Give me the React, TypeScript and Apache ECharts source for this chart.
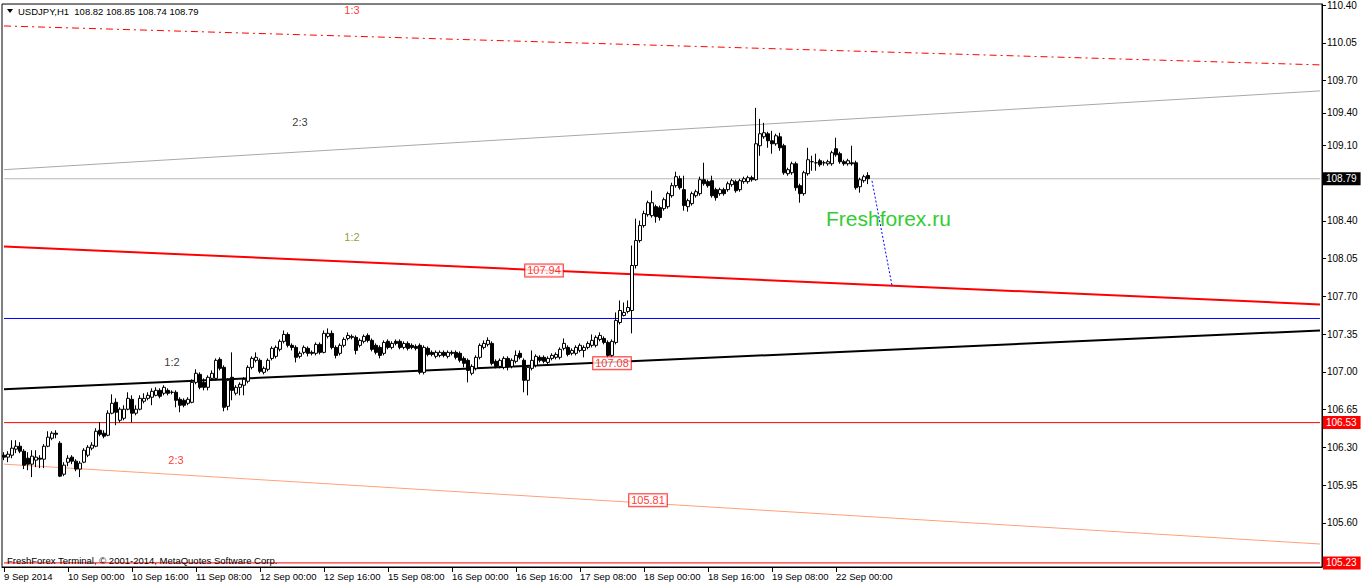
import React, { useEffect, useRef } from "react";
import * as echarts from "echarts";

// ---------- DATA ----------
const tradingDays = ["9 Sep", "10 Sep", "11 Sep", "12 Sep", "15 Sep", "16 Sep", "17 Sep", "18 Sep", "19 Sep", "22 Sep"];
const firstHour = 8;
const lastHour = 8;
const totalSlots = 330;

const timeTickLabels = [
  "9 Sep 2014", "10 Sep 00:00", "10 Sep 16:00", "11 Sep 08:00", "12 Sep 00:00", "12 Sep 16:00", "15 Sep 08:00",
  "16 Sep 00:00", "16 Sep 16:00", "17 Sep 08:00", "18 Sep 00:00", "18 Sep 16:00", "19 Sep 08:00", "22 Sep 00:00",
];
const timeTickStep = 16;

const priceTicks = [110.4, 110.05, 109.7, 109.4, 109.1, 108.4, 108.05, 107.7, 107.35, 107.0, 106.65, 106.3, 105.95, 105.6];
const priceMin = 105.192;
const priceMax = 110.409;

// [open, close, low, high] USDJPY H1
const ohlc: number[][] = [
  [106.228, 106.21, 106.182, 106.256], [106.21, 106.237, 106.163, 106.265], [106.228, 106.293, 106.2, 106.367],
  [106.284, 106.311, 106.247, 106.367], [106.311, 106.265, 106.247, 106.348], [106.265, 106.136, 106.099, 106.284],
  [106.2, 106.145, 106.089, 106.256], [106.145, 106.219, 106.025, 106.274], [106.182, 106.21, 106.117, 106.274],
  [106.2, 106.191, 106.108, 106.228], [106.191, 106.311, 106.108, 106.33], [106.311, 106.395, 106.302, 106.45],
  [106.385, 106.432, 106.367, 106.45], [106.432, 106.422, 106.385, 106.459], [106.339, 106.034, 106.025, 106.358],
  [106.052, 106.136, 106.034, 106.163], [106.163, 106.2, 106.126, 106.228], [106.21, 106.173, 106.145, 106.228],
  [106.173, 106.099, 106.08, 106.191], [106.099, 106.154, 106.025, 106.173], [106.163, 106.274, 106.154, 106.293],
  [106.228, 106.302, 106.21, 106.321], [106.293, 106.321, 106.274, 106.348], [106.311, 106.45, 106.302, 106.478],
  [106.459, 106.422, 106.404, 106.533], [106.432, 106.404, 106.385, 106.459], [106.413, 106.617, 106.404, 106.644],
  [106.617, 106.709, 106.607, 106.792], [106.718, 106.626, 106.506, 106.755], [106.552, 106.654, 106.533, 106.672],
  [106.57, 106.654, 106.552, 106.691], [106.654, 106.755, 106.644, 106.811], [106.746, 106.617, 106.533, 106.783],
  [106.617, 106.654, 106.598, 106.691], [106.654, 106.755, 106.644, 106.783], [106.728, 106.755, 106.709, 106.802],
  [106.755, 106.783, 106.737, 106.811], [106.765, 106.82, 106.691, 106.848], [106.783, 106.829, 106.774, 106.857],
  [106.829, 106.774, 106.755, 106.848], [106.802, 106.857, 106.783, 106.876], [106.829, 106.802, 106.783, 106.848],
  [106.811, 106.811, 106.792, 106.829], [106.811, 106.737, 106.672, 106.829], [106.746, 106.691, 106.626, 106.765],
  [106.737, 106.691, 106.672, 106.755], [106.709, 106.746, 106.691, 106.765], [106.718, 106.903, 106.709, 106.931],
  [106.903, 106.987, 106.885, 107.024], [106.977, 106.857, 106.839, 106.996], [106.903, 106.857, 106.829, 106.94],
  [106.857, 106.95, 106.829, 106.968], [106.94, 106.987, 106.922, 107.014], [106.94, 107.107, 106.922, 107.125],
  [107.116, 107.033, 107.014, 107.135], [107.042, 106.672, 106.635, 107.061], [106.681, 106.922, 106.644, 106.94],
  [106.95, 106.829, 106.737, 107.181], [106.802, 106.857, 106.783, 106.876], [106.857, 106.885, 106.783, 106.903],
  [106.876, 106.931, 106.783, 106.95], [106.913, 107.042, 106.894, 107.061], [107.042, 107.125, 107.024, 107.144],
  [107.107, 107.135, 107.088, 107.181], [107.107, 107.005, 106.987, 107.125], [106.996, 107.033, 106.977, 107.051],
  [107.024, 107.107, 107.005, 107.125], [107.125, 107.218, 107.107, 107.236], [107.144, 107.227, 107.125, 107.246],
  [107.209, 107.283, 107.19, 107.301], [107.283, 107.347, 107.264, 107.384], [107.347, 107.246, 107.227, 107.366],
  [107.246, 107.227, 107.199, 107.264], [107.227, 107.135, 107.088, 107.246], [107.144, 107.172, 107.125, 107.19],
  [107.181, 107.227, 107.162, 107.246], [107.218, 107.172, 107.144, 107.236], [107.181, 107.172, 107.153, 107.199],
  [107.172, 107.255, 107.153, 107.273], [107.255, 107.181, 107.162, 107.273], [107.181, 107.357, 107.172, 107.384],
  [107.329, 107.357, 107.31, 107.403], [107.357, 107.227, 107.209, 107.384], [107.227, 107.153, 107.125, 107.246],
  [107.172, 107.246, 107.153, 107.264], [107.246, 107.301, 107.227, 107.32], [107.31, 107.338, 107.292, 107.366],
  [107.32, 107.329, 107.301, 107.347], [107.32, 107.199, 107.162, 107.338], [107.246, 107.292, 107.227, 107.31],
  [107.283, 107.329, 107.264, 107.347], [107.338, 107.292, 107.273, 107.357], [107.292, 107.209, 107.19, 107.31],
  [107.246, 107.181, 107.162, 107.264], [107.227, 107.153, 107.125, 107.246], [107.172, 107.273, 107.153, 107.292],
  [107.283, 107.227, 107.209, 107.301], [107.227, 107.264, 107.209, 107.283], [107.283, 107.264, 107.246, 107.301],
  [107.283, 107.227, 107.209, 107.301], [107.227, 107.264, 107.209, 107.283], [107.264, 107.218, 107.199, 107.283],
  [107.246, 107.227, 107.209, 107.264], [107.236, 107.218, 107.199, 107.255], [107.246, 106.996, 106.977, 107.264],
  [106.996, 107.227, 106.977, 107.246], [107.218, 107.162, 107.144, 107.236], [107.181, 107.162, 107.144, 107.199],
  [107.144, 107.181, 107.125, 107.199], [107.153, 107.181, 107.135, 107.199], [107.181, 107.153, 107.135, 107.199],
  [107.144, 107.181, 107.125, 107.199], [107.181, 107.172, 107.153, 107.199], [107.181, 107.135, 107.116, 107.199],
  [107.172, 107.107, 107.088, 107.19], [107.125, 107.079, 107.042, 107.144], [107.107, 107.014, 106.903, 107.125],
  [106.987, 107.051, 106.968, 107.07], [107.033, 107.135, 107.014, 107.153], [107.135, 107.246, 107.116, 107.264],
  [107.227, 107.264, 107.209, 107.292], [107.255, 107.292, 107.236, 107.32], [107.264, 107.079, 107.061, 107.283],
  [107.098, 107.051, 107.033, 107.116], [107.051, 107.107, 107.033, 107.125], [107.042, 107.125, 107.024, 107.144],
  [107.125, 107.051, 107.014, 107.144], [107.051, 107.107, 107.033, 107.125], [107.098, 107.153, 107.079, 107.199],
  [107.172, 107.135, 107.116, 107.199], [107.107, 106.922, 106.811, 107.125], [106.922, 107.042, 106.783, 107.061],
  [107.033, 107.107, 107.014, 107.199], [107.061, 107.144, 107.042, 107.162], [107.135, 107.107, 107.088, 107.153],
  [107.135, 107.098, 107.079, 107.153], [107.088, 107.125, 107.07, 107.144], [107.125, 107.153, 107.107, 107.172],
  [107.135, 107.162, 107.116, 107.181], [107.135, 107.209, 107.116, 107.227], [107.218, 107.264, 107.199, 107.31],
  [107.227, 107.162, 107.144, 107.246], [107.172, 107.199, 107.153, 107.218], [107.172, 107.227, 107.153, 107.246],
  [107.199, 107.246, 107.181, 107.264], [107.199, 107.227, 107.135, 107.246], [107.227, 107.264, 107.209, 107.283],
  [107.246, 107.292, 107.227, 107.347], [107.246, 107.32, 107.227, 107.338], [107.301, 107.338, 107.283, 107.366],
  [107.31, 107.273, 107.255, 107.329], [107.273, 107.153, 107.125, 107.292], [107.153, 107.283, 107.125, 107.301],
  [107.273, 107.477, 107.255, 107.551], [107.458, 107.569, 107.44, 107.662], [107.523, 107.551, 107.514, 107.643],
  [107.56, 107.597, 107.542, 107.662], [107.569, 107.986, 107.357, 108.171], [107.986, 108.217, 107.958, 108.42],
  [108.217, 108.356, 108.198, 108.402], [108.356, 108.467, 108.337, 108.494], [108.457, 108.568, 108.439, 108.587],
  [108.448, 108.568, 108.43, 108.679], [108.531, 108.439, 108.383, 108.55], [108.522, 108.43, 108.402, 108.541],
  [108.513, 108.596, 108.494, 108.615], [108.531, 108.652, 108.513, 108.67], [108.633, 108.726, 108.615, 108.753],
  [108.726, 108.809, 108.707, 108.855], [108.79, 108.707, 108.689, 108.818], [108.689, 108.541, 108.494, 108.818],
  [108.531, 108.587, 108.485, 108.605], [108.559, 108.652, 108.541, 108.67], [108.633, 108.67, 108.615, 108.689],
  [108.652, 108.781, 108.633, 108.809], [108.781, 108.744, 108.726, 108.938], [108.763, 108.726, 108.707, 108.781],
  [108.772, 108.633, 108.615, 108.818], [108.689, 108.615, 108.587, 108.707], [108.652, 108.689, 108.633, 108.707],
  [108.689, 108.652, 108.633, 108.707], [108.689, 108.744, 108.67, 108.763], [108.735, 108.772, 108.716, 108.79],
  [108.763, 108.679, 108.661, 108.781], [108.689, 108.772, 108.67, 108.79], [108.763, 108.79, 108.744, 108.809],
  [108.763, 108.8, 108.744, 108.818], [108.8, 108.781, 108.763, 108.818], [108.781, 109.114, 108.772, 109.447],
  [109.096, 109.207, 109.003, 109.345], [109.179, 109.216, 109.16, 109.308], [109.207, 109.142, 109.077, 109.225],
  [109.142, 109.114, 109.022, 109.234], [109.114, 109.188, 109.096, 109.207], [109.179, 109.077, 109.049, 109.216],
  [109.096, 108.846, 108.827, 109.114], [108.837, 108.874, 108.818, 108.892], [108.846, 108.929, 108.827, 108.948],
  [108.929, 108.707, 108.679, 108.948], [108.726, 108.652, 108.568, 108.744], [108.652, 108.846, 108.633, 108.864],
  [108.837, 108.966, 108.818, 109.077], [108.948, 108.948, 108.864, 109.003], [108.938, 108.938, 108.864, 109.022],
  [108.957, 108.92, 108.901, 108.975], [108.938, 108.938, 108.911, 108.957], [108.929, 108.948, 108.911, 108.966],
  [108.929, 109.031, 108.911, 109.049], [109.068, 109.012, 108.994, 109.17], [109.022, 108.948, 108.929, 109.04],
  [108.948, 108.929, 108.911, 108.966], [108.929, 108.957, 108.911, 108.975], [108.938, 108.929, 108.911, 109.096],
  [108.938, 108.707, 108.689, 108.957], [108.716, 108.781, 108.661, 108.8], [108.772, 108.809, 108.753, 108.827],
  [108.82, 108.79, 108.74, 108.85],
];

const symbolName = "USDJPY,H1";
const lastQuote = [108.82, 108.85, 108.74, 108.79];

// trend lines: [startIndex, startPrice, endIndex, endPrice]
const line13 = [0, 110.206, 329, 109.845];
const line23Upper = [0, 108.874, 329, 109.604];
const line12Red = [0, 108.162, 329, 107.625];
const line12Black = [0, 106.839, 329, 107.384];
const line23Lower = [0, 106.145, 329, 105.405];
const projection = [217, 108.77, 222, 107.8];

const blueLevel = 107.495;
const bidLevel = 108.79;
const redLevels = [106.53, 105.23];

const lineTags = [
  [135, 107.94],
  [152, 107.08],
  [161, 105.81],
];

const noteTexts = ["1:3", "2:3", "1:2", "1:2", "2:3"];
const notePoints = [
  [87, 110.354],
  [74, 109.318],
  [87, 108.254],
  [42, 107.088],
  [43, 106.182],
];
const noteColors = ["#ff0000", "#000000", "#808000", "#000000", "#ff0000"];

const watermark = "Freshforex.ru";
const copyright = "FreshForex Terminal, © 2001-2014, MetaQuotes Software Corp.";

// ---------- BUILD ----------
const categories: string[] = [];
tradingDays.forEach((d, di) => {
  const start = di === 0 ? firstHour : 0;
  const end = di === tradingDays.length - 1 ? lastHour : 23;
  for (let h = start; h <= end; h++) categories.push(`${d} ${String(h).padStart(2, "0")}:00`);
});
let futureK = 1;
while (categories.length < totalSlots) categories.push(`+${futureK++}h`);

const lastLabelIndex = (timeTickLabels.length - 1) * timeTickStep;
const showTimeTick = (i: number) => i % timeTickStep === 0 && i <= lastLabelIndex;

const FONT = '"Liberation Sans", Arial, sans-serif';

function seg(l: number[]) {
  return [
    [l[0], l[1]],
    [l[2], l[3]],
  ];
}

function levelSeries(value: number, color: string, width: number, tag: boolean, tagBg: string) {
  return {
    type: "line",
    data: [
      [0, value],
      [totalSlots - 1, value],
    ],
    symbol: "none",
    silent: true,
    z: 2,
    lineStyle: { color, width, type: "solid" },
    endLabel: tag
      ? {
          show: true,
          formatter: () => value.toFixed(2),
          backgroundColor: tagBg,
          color: "#ffffff",
          fontFamily: FONT,
          fontSize: 10,
          padding: [2, 4, 1, 3],
          distance: 3,
        }
      : { show: false },
  };
}

function trendSeries(l: number[], color: string, width: number, type: any) {
  return {
    type: "line",
    data: seg(l),
    symbol: "none",
    silent: true,
    z: 2,
    lineStyle: { color, width, type },
  };
}

export default function App() {
  const ref = useRef<HTMLDivElement>(null);

  useEffect(() => {
    if (!ref.current) return;
    const chart = echarts.init(ref.current, null, { renderer: "svg" });
    const option: any = {
      animation: false,
      backgroundColor: "#ffffff",
      grid: {
        left: 2,
        right: 40,
        top: 3,
        bottom: 19,
        show: true,
        borderColor: "#000000",
        borderWidth: 1,
        backgroundColor: "#ffffff",
      },
      xAxis: {
        type: "category",
        data: categories,
        boundaryGap: true,
        axisLine: { show: true, lineStyle: { color: "#000000", width: 1 } },
        axisTick: {
          show: true,
          alignWithLabel: true,
          length: 5,
          interval: (i: number) => showTimeTick(i),
          lineStyle: { color: "#000000" },
        },
        axisLabel: {
          show: true,
          interval: (i: number) => showTimeTick(i),
          formatter: (_v: string, i: number) => timeTickLabels[i / timeTickStep] ?? "",
          align: "left",
          margin: 4,
          color: "#000000",
          fontFamily: FONT,
          fontSize: 9.5,
        },
        splitLine: { show: false },
      },
      yAxis: {
        type: "value",
        position: "right",
        min: priceMin,
        max: priceMax,
        scale: true,
        splitLine: { show: false },
        axisLine: { show: true, lineStyle: { color: "#000000", width: 1 } },
        axisTick: { show: true, length: 4, customValues: priceTicks, lineStyle: { color: "#000000" } },
        axisLabel: {
          show: true,
          customValues: priceTicks,
          formatter: (v: number) => v.toFixed(2),
          color: "#000000",
          fontFamily: FONT,
          fontSize: 10,
          margin: 5,
        },
      },
      series: [
        trendSeries(line13, "#ff0000", 1, [7, 4, 2, 4]),
        trendSeries(line23Upper, "#a8a8a8", 1, "solid"),
        trendSeries(line12Red, "#ff0000", 2, "solid"),
        trendSeries(line12Black, "#000000", 2, "solid"),
        trendSeries(line23Lower, "#ffa07a", 1, "solid"),
        trendSeries(projection, "#0000ff", 1, [2, 2]),
        levelSeries(blueLevel, "#0000ff", 1, false, ""),
        levelSeries(bidLevel, "#b8b8b8", 1, true, "#000000"),
        levelSeries(redLevels[0], "#ff0000", 1, true, "#ff0000"),
        levelSeries(redLevels[1], "#ff0000", 1, true, "#ff0000"),
        {
          type: "candlestick",
          data: ohlc,
          barWidth: 3,
          z: 5,
          silent: true,
          itemStyle: {
            color: "#ffffff",
            color0: "#000000",
            borderColor: "#000000",
            borderColor0: "#000000",
            borderWidth: 1,
          },
        },
        {
          type: "scatter",
          data: lineTags,
          symbolSize: 0,
          silent: true,
          z: 8,
          label: {
            show: true,
            position: "inside",
            formatter: (p: any) => p.value[1].toFixed(2),
            color: "#ff0000",
            backgroundColor: "#ffffff",
            borderColor: "#ff0000",
            borderWidth: 1,
            padding: [1, 2, 0, 2],
            fontFamily: FONT,
            fontSize: 11,
          },
        },
        {
          type: "scatter",
          data: notePoints.map((p, i) => ({
            value: p,
            label: { formatter: noteTexts[i], color: noteColors[i] },
          })),
          symbolSize: 0,
          silent: true,
          z: 8,
          label: { show: true, position: "inside", fontFamily: FONT, fontSize: 11 },
        },
      ],
      graphic: [
        {
          type: "polygon",
          shape: { points: [[7, 9], [13, 9], [10, 13]] },
          style: { fill: "#000000" },
          z: 20,
        },
        {
          type: "text",
          x: 18,
          y: 11,
          z: 20,
          style: {
            text: `${symbolName}  ${lastQuote.map((v) => v.toFixed(2)).join(" ")}`,
            fill: "#000000",
            font: `9.5px ${FONT}`,
            textVerticalAlign: "middle",
          },
        },
        {
          type: "text",
          x: 826,
          y: 218,
          z: 20,
          style: {
            text: watermark,
            fill: "#33cc33",
            font: `21px ${FONT}`,
            textVerticalAlign: "middle",
          },
        },
        {
          type: "text",
          x: 7,
          y: 560,
          z: 20,
          style: {
            text: copyright,
            fill: "#000000",
            font: `9.5px ${FONT}`,
            textVerticalAlign: "middle",
          },
        },
      ],
    };
    chart.setOption(option);
    return () => chart.dispose();
  }, []);

  return (
    <div
      ref={ref}
      style={{ position: "fixed", left: 0, top: 0, width: 1362, height: 586, background: "#ffffff" }}
    />
  );
}
